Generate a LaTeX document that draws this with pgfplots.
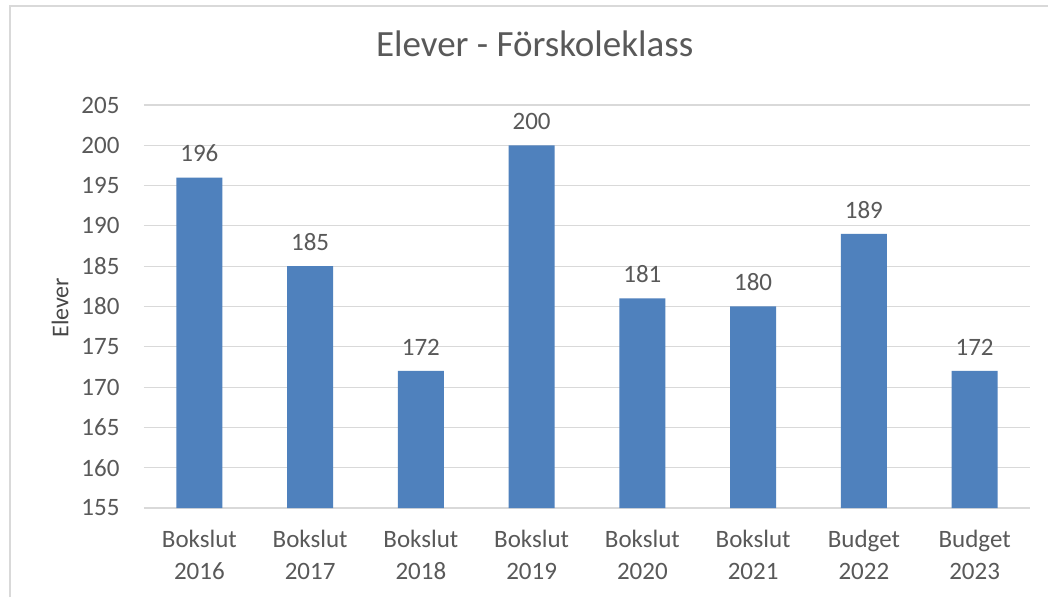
\documentclass[border=0pt]{standalone}
\usepackage{fontspec}
\setmainfont{Carlito}
\usepackage{pgfplots}
\pgfplotsset{compat=1.18}
\definecolor{barblue}{HTML}{4F81BD}
\definecolor{txt}{HTML}{595959}
\definecolor{gridc}{HTML}{D9D9D9}
\begin{document}
\begin{tikzpicture}[x=1pt,y=1pt]
% axis box: 144..1030 px wide, 105..508 px high; origin at its lower left
\useasboundingbox (-144,-89) rectangle (904,508);
\fill[white] (-144,-89) rectangle (904,508);
\draw[gridc,line width=1.5pt] (-134,-89) -- (-134,502) -- (904,502);
\begin{axis}[
  scale only axis, width=886pt, height=403pt,
  xmin=-0.5, xmax=7.5, ymin=155, ymax=205,
  ytick={155,160,...,205},
  xtick=data,
  xticklabels={{Bokslut\\2016},{Bokslut\\2017},{Bokslut\\2018},{Bokslut\\2019},{Bokslut\\2020},{Bokslut\\2021},{Budget\\2022},{Budget\\2023}},
  xticklabel style={align=center,font=\fontsize{25}{32}\selectfont,text=txt},
  yticklabel style={font=\fontsize{25}{28}\selectfont,text=txt},
  /pgf/number format/assume math mode=true,
  major tick length=0pt,
  axis line style={draw=none},
  ymajorgrids, grid style={draw=gridc,line width=1.2pt},
  ylabel={Elever},
  ylabel style={font=\fontsize{24}{28}\selectfont,text=txt!80!black,
    at={(axis description cs:-0.0948,0.497)},anchor=center},
  title={Elever - Förskoleklass},
  title style={font=\fontsize{37}{40}\selectfont,text=txt,
    at={(axis description cs:0.441,1.136)},anchor=center},
  yticklabel shift=21pt, xticklabel shift=19pt,
  ]
\addplot[ybar, bar width=46pt, fill=barblue, draw=none,
  nodes near coords, nodes near coords style={font=\fontsize{25}{28}\selectfont,text=txt,yshift=12pt},
  point meta=y] coordinates {
  (0,196)(1,185)(2,172)(3,200)(4,181)(5,180)(6,189)(7,172)};
\end{axis}
\end{tikzpicture}
\end{document}
